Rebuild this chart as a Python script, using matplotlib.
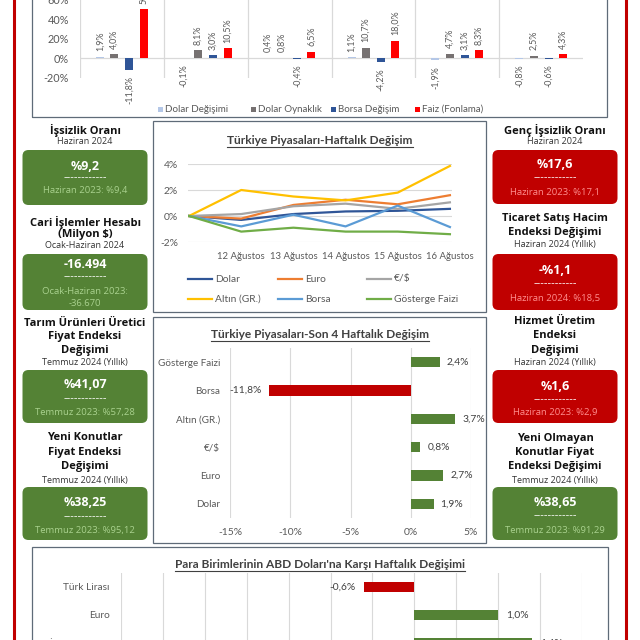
import matplotlib
matplotlib.use("Agg")
import matplotlib.pyplot as plt
from matplotlib.patches import Rectangle, FancyBboxPatch
from matplotlib.lines import Line2D

# ---------------- data ----------------
top_series_names = ["Dolar Değişimi", "Dolar Oynaklık", "Borsa Değişim", "Faiz (Fonlama)"]
dolar_degisimi = [1.9, -0.1, 0.4, 1.1, -1.9, -0.8]
dolar_oynaklik = [4.0, 8.1, 0.8, 10.7, 4.7, 2.5]
borsa_degisim = [-11.8, 3.0, -0.4, -4.2, 3.1, -0.6]
faiz_fonlama = [50.2, 10.5, 6.5, 18.0, 8.3, 4.3]
top_yticks = [-20, 0, 20, 40, 60]

weekly_dates = ["", "12 Ağustos", "13 Ağustos", "14 Ağustos", "15 Ağustos", "16 Ağustos"]
weekly_names = ["Dolar", "Euro", "€/$", "Altın (GR.)", "Borsa", "Gösterge Faizi"]
weekly_dolar = [0, -0.3, 0.15, 0.35, 0.4, 0.55]
weekly_euro = [0, -0.2, 0.85, 1.25, 0.9, 1.6]
weekly_eurusd = [0, 0.15, 0.75, 0.95, 0.55, 1.05]
weekly_altin = [0, 2.0, 1.5, 1.2, 1.8, 3.85]
weekly_borsa = [0, -0.8, 0.1, -0.8, 0.8, -0.85]
weekly_gosterge = [0, -1.2, -0.9, -1.2, -1.2, -1.4]
weekly_yticks = [-2, 0, 2, 4]

four_week_categories = ["Dolar", "Euro", "€/$", "Altın (GR.)", "Borsa", "Gösterge Faizi"]
four_week_values = [1.9, 2.7, 0.8, 3.7, -11.8, 2.4]
four_week_xticks = [-15, -10, -5, 0, 5]

fx_categories = ["Türk Lirası", "Euro", "İngiliz Sterlini"]
fx_values = [-0.6, 1.0, 1.4]
fx_xticks = [-3.5, -3.0, -2.5, -2.0, -1.5, -1.0, -0.5, 0.0, 0.5, 1.0, 1.5, 2.0]

card_titles = [
    ["İşsizlik Oranı"], ["Cari İşlemler Hesabı", "(Milyon $)"],
    ["Tarım Ürünleri Üretici", "Fiyat Endeksi", "Değişimi"], ["Yeni Konutlar", "Fiyat Endeksi", "Değişimi"],
    ["Genç İşsizlik Oranı"], ["Ticaret Satış Hacim", "Endeksi Değişimi"],
    ["Hizmet Üretim", "Endeksi", "Değişimi"], ["Yeni Olmayan", "Konutlar Fiyat", "Endeksi Değişimi"],
]
card_periods = ["Haziran 2024", "Ocak-Haziran 2024", "Temmuz 2024 (Yıllık)", "Temmuz 2024 (Yıllık)",
                "Haziran 2024", "Haziran 2024 (Yıllık)", "Haziran 2024 (Yıllık)", "Temmuz 2024 (Yıllık)"]
card_values = ["%9,2", "-16.494", "%41,07", "%38,25", "%17,6", "-%1,1", "%1,6", "%38,65"]
card_previous = [["Haziran 2023: %9,4"], ["Ocak-Haziran 2023:", "-36.670"], ["Temmuz 2023: %57,28"],
                 ["Temmuz 2023: %95,12"], ["Haziran 2023: %17,1"], ["Haziran 2024: %18,5"],
                 ["Haziran 2023: %2,9"], ["Temmuz 2023: %91,29"]]
card_good = [True, True, True, True, False, False, False, True]

# ---------------- style / layout ----------------
W = H = 640
GREEN = "#548235"
RED = "#C00000"
GRID = "#D9D9D9"
TICK = "#595959"
CHART_FONT = ["Lato", "DejaVu Sans"]
CARD_FONT = ["Open Sans", "DejaVu Sans"]
plt.rcParams["font.family"] = CHART_FONT

fig = plt.figure(figsize=(6.4, 6.4), dpi=100)
fig.patch.set_facecolor("white")


def fx(px):
    return px / W


def fy(py):
    return 1 - py / H


def axes_px(l, t, r, b):
    return fig.add_axes([l / W, 1 - b / H, (r - l) / W, (b - t) / H])


def pct(v, d=1):
    return (f"{v:.{d}f}%").replace(".", ",")


def frame(l, t, r, b, color="#5F6B78", lw=0.9):
    fig.add_artist(Rectangle((fx(l), fy(b)), fx(r) - fx(l), fy(t) - fy(b),
                             transform=fig.transFigure, fill=False, ec=color, lw=lw))


def underline(txt):
    fig.canvas.draw()
    bb = txt.get_window_extent()
    fig.add_artist(Line2D([bb.x0 / W, bb.x1 / W], [(bb.y0 - 0.3) / H] * 2,
                          transform=fig.transFigure, color=txt.get_color(), lw=0.8))


# red side rules
for x in (14, 626):
    fig.add_artist(Line2D([fx(x), fx(x)], [0, 1], transform=fig.transFigure, color=RED, lw=2.2))

# ---------------- top grouped bar chart ----------------
frame(32, -5, 607, 117)
ax = axes_px(80, -0.5, 583, 78)
series = [dolar_degisimi, dolar_oynaklik, borsa_degisim, faiz_fonlama]
colors = ["#B4C7E7", "#767171", "#2F5597", "#FF0000"]
offsets = [-0.26, -0.09, 0.09, 0.26]
n = len(dolar_degisimi)
for vals, col, off in zip(series, colors, offsets):
    xs = [i + 0.5 + off for i in range(n)]
    ax.bar(xs, vals, width=0.095, color=col, zorder=3)
    for x, v in zip(xs, vals):
        if v >= 0:
            ax.annotate(pct(v), (x, v), xytext=(0, 4), textcoords="offset points", rotation=90,
                        ha="center", va="bottom", fontsize=6.4, color=TICK, annotation_clip=False)
        else:
            ax.annotate(pct(v), (x, v), xytext=(0, -4), textcoords="offset points", rotation=90,
                        ha="center", va="top", fontsize=6.4, color=TICK, annotation_clip=False)
ax.set_xlim(0, n)
ax.set_ylim(-20, 60)
ax.axhline(0, color=GRID, lw=0.9, zorder=1)
for i in range(n):
    ax.axvline(i, color=GRID, lw=0.9, zorder=1)
ax.set_yticks(top_yticks)
ax.set_yticklabels([f"{t}%" for t in top_yticks])
ax.tick_params(axis="y", length=0, labelsize=7.8, labelcolor=TICK, pad=8)
ax.set_xticks([])
for s in ax.spines.values():
    s.set_visible(False)
ax.patch.set_alpha(0)

legend_x = [160, 253, 333, 417]
for lx, name, col in zip(legend_x, top_series_names, colors):
    fig.add_artist(Rectangle((fx(lx - 2.5), fy(111.5)), 5 / W, 5 / H, transform=fig.transFigure,
                             fc=col, ec="none"))
    fig.text(fx(lx + 5), fy(109), name, fontsize=7.0, color=TICK, va="center", ha="left")

# ---------------- weekly line chart ----------------
frame(153, 121, 486, 312)
t = fig.text(fx(320), fy(141), "Türkiye Piyasaları-Haftalık Değişim", fontsize=8.6,
             fontweight="bold", color="#404040", ha="center", va="center")
underline(t)
ax2 = axes_px(188, 164, 452, 242)
wcols = ["#2F5597", "#ED7D31", "#A5A5A5", "#FFC000", "#5B9BD5", "#70AD47"]
wdata = [weekly_dolar, weekly_euro, weekly_eurusd, weekly_altin, weekly_borsa, weekly_gosterge]
xs = list(range(len(weekly_dates)))
for vals, col in zip(wdata, wcols):
    ax2.plot(xs, vals, color=col, lw=1.6, zorder=3, solid_joinstyle="round")
ax2.set_xlim(-0.02, 5.04)
ax2.set_ylim(-2, 4)
ax2.set_yticks(weekly_yticks)
ax2.set_yticklabels([f"{v}%" for v in weekly_yticks])
ax2.set_xticks(xs)
ax2.set_xticklabels(weekly_dates)
ax2.grid(axis="y", color=GRID, lw=0.8)
ax2.set_axisbelow(True)
ax2.tick_params(axis="y", length=0, labelsize=7.4, labelcolor=TICK, pad=7)
ax2.tick_params(axis="x", length=0, labelsize=6.9, labelcolor=TICK, pad=7)
for s in ax2.spines.values():
    s.set_visible(False)
ax2.patch.set_alpha(0)

leg_pos = [(188, 279), (278, 279), (367, 279), (188, 299), (278, 299), (367, 299)]
for (lx, ly), name, col in zip(leg_pos, weekly_names, wcols):
    fig.add_artist(Line2D([fx(lx), fx(lx + 24)], [fy(ly)] * 2, transform=fig.transFigure, color=col, lw=1.6))
    fig.text(fx(lx + 27), fy(ly), name, fontsize=7.4, color=TICK, va="center", ha="left")

# ---------------- four week bar chart ----------------
frame(153, 317, 486, 543)
t = fig.text(fx(320), fy(335), "Türkiye Piyasaları-Son 4 Haftalık Değişim", fontsize=8.6,
             fontweight="bold", color="#404040", ha="center", va="center")
underline(t)
ax3 = axes_px(230, 348, 471, 518)
ys = list(range(len(four_week_categories)))
cols3 = [GREEN if v >= 0 else RED for v in four_week_values]
ax3.barh(ys, four_week_values, height=0.36, color=cols3, zorder=3)
for y, v in zip(ys, four_week_values):
    ax3.annotate(pct(v), (v, y), xytext=(5 if v >= 0 else -5, 0), textcoords="offset points",
                 ha="left" if v >= 0 else "right", va="center", fontsize=7.4, color="#404040")
ax3.set_xlim(-15, 5)
ax3.set_ylim(-0.5, 5.5)
ax3.set_xticks(four_week_xticks)
ax3.set_xticklabels([f"{v}%" for v in four_week_xticks])
ax3.set_yticks(ys)
ax3.set_yticklabels(four_week_categories)
ax3.grid(axis="x", color=GRID, lw=0.8)
ax3.set_axisbelow(True)
ax3.tick_params(axis="x", length=0, labelsize=7.4, labelcolor=TICK, pad=7)
ax3.tick_params(axis="y", length=0, labelsize=7.1, labelcolor=TICK, pad=7)
for s in ax3.spines.values():
    s.set_visible(False)
ax3.patch.set_alpha(0)

# ---------------- currencies vs USD ----------------
frame(32, 547, 608, 660)
t = fig.text(fx(320), fy(565), "Para Birimlerinin ABD Doları'na Karşı Haftalık Değişimi", fontsize=8.6,
             fontweight="bold", color="#404040", ha="center", va="center")
underline(t)
ax4 = axes_px(121, 573, 582, 700)
ys4 = list(range(len(fx_categories)))
cols4 = [GREEN if v >= 0 else RED for v in fx_values]
ax4.barh(ys4, fx_values, height=0.36, color=cols4, zorder=3)
for y, v in zip(ys4, fx_values):
    ax4.annotate(pct(v), (v, y), xytext=(6 if v >= 0 else -6, 0), textcoords="offset points",
                 ha="left" if v >= 0 else "right", va="center", fontsize=7.4, color="#404040")
ax4.set_xlim(-3.5, 2.0)
ax4.set_ylim(4.04, -0.5)
ax4.set_xticks(fx_xticks)
ax4.set_xticklabels([])
ax4.set_yticks(ys4)
ax4.set_yticklabels(fx_categories)
ax4.grid(axis="x", color=GRID, lw=0.8)
ax4.set_axisbelow(True)
ax4.tick_params(axis="both", length=0, labelsize=7.3, labelcolor=TICK, pad=8)
for s in ax4.spines.values():
    s.set_visible(False)
ax4.patch.set_alpha(0)

# ---------------- KPI cards ----------------
card_cx = [85, 85, 85, 85, 555, 555, 555, 555]
card_title_y = [[130], [222, 234], [323, 337, 351], [438, 453, 467],
                [130], [219, 232], [322, 336, 350], [438, 453, 467]]
card_period_y = [142, 246, 363, 480, 142, 245, 363, 480]
card_box = [(150, 205), (254, 310), (370, 423), (487, 540), (150, 204), (254, 310), (370, 423), (487, 540)]
card_value_y = [166, 265, 385, 503, 165, 270, 386, 502]
card_dash_y = [178, 277, 399, 517, 178, 284, 400, 516]
card_prev_y = [[190], [291, 303], [412], [530], [192], [298], [412], [530]]
card_w = 125

for i in range(len(card_titles)):
    cx = card_cx[i]
    for line, y in zip(card_titles[i], card_title_y[i]):
        fig.text(fx(cx), fy(y), line, fontsize=8, fontweight="bold", color="#111111",
                 ha="center", va="center", family=CARD_FONT)
    fig.text(fx(cx), fy(card_period_y[i]), card_periods[i], fontsize=6.5, color="#333333",
             ha="center", va="center", family=CARD_FONT)
    top, bot = card_box[i]
    fill = GREEN if card_good[i] else RED
    faint = "#A9D18E" if card_good[i] else "#FF8F8F"
    fig.add_artist(FancyBboxPatch((fx(cx - card_w / 2 + 6), fy(bot - 6)), (card_w - 12) / W, (bot - top - 12) / H,
                                  boxstyle=f"round,pad={6 / W}", transform=fig.transFigure,
                                  fc=fill, ec="none", mutation_aspect=1))
    fig.text(fx(cx), fy(card_value_y[i]), card_values[i], fontsize=9, fontweight="bold", color="white",
             ha="center", va="center", family=CARD_FONT)
    fig.text(fx(cx), fy(card_dash_y[i]), "------------", fontsize=8, color="white",
             ha="center", va="center", family=CARD_FONT)
    for line, y in zip(card_previous[i], card_prev_y[i]):
        fig.text(fx(cx), fy(y), line, fontsize=6.8, color=faint, ha="center", va="center", family=CARD_FONT)

fig.savefig("out.png", dpi=100, facecolor="white")
